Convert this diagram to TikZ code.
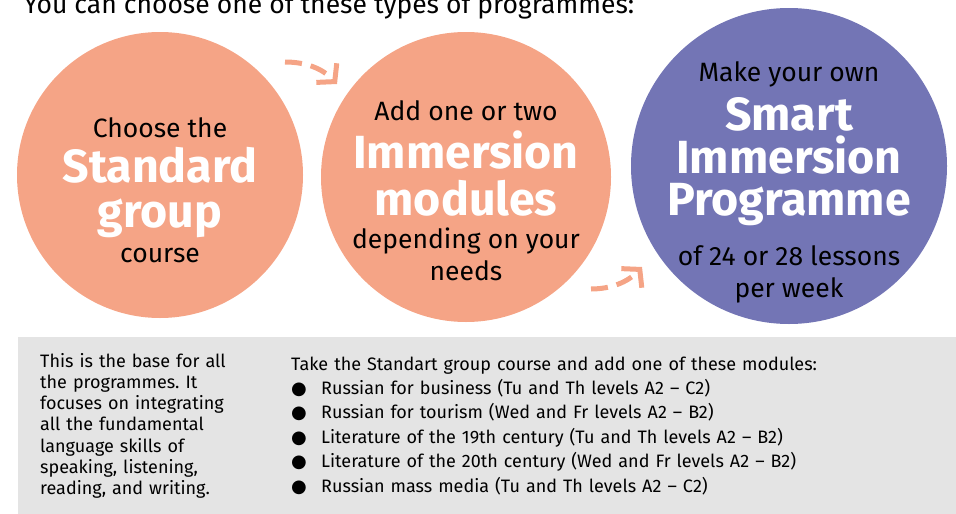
\documentclass[tikz,border=0pt]{standalone}
\usepackage{fontspec}
\setmainfont{Fira Sans}
\newfontfamily\symfont{DejaVu Sans}
\usetikzlibrary{arrows.meta}
\definecolor{salmon}{HTML}{F5A486}
\definecolor{lilac}{HTML}{7375B5}
\definecolor{panelgray}{HTML}{E4E4E4}
\frenchspacing
\newcommand\blob{\makebox[30pt][l]{\symfont\fontsize{18}{18}\selectfont ●}}

\begin{document}
\begin{tikzpicture}[x=1pt, y=-1pt,
    bubble/.style={circle, fill=#1, inner sep=0pt},   % the three round steps
    smalltxt/.style={anchor=base, font=\fontsize{26.5}{30}\selectfont},
    bigtxt/.style={anchor=base, text=white, font=\fontsize{46.5}{50}\selectfont\bfseries},
    panel/.style={fill=panelgray, anchor=north west, inner sep=0pt, align=left,
        font=\fontsize{18}{21.2}\selectfont},
    hop/.style={salmon, line width=5pt, dash pattern=on 17pt off 9pt,
        -{Straight Barb[length=12pt, width=28pt]}}
]
\useasboundingbox (0,0) rectangle (956,514);

% title, cut at the top
\node[anchor=base west, font=\fontsize{26.5}{30}\selectfont] (title) at (20,13)
    {You can choose one of these types of programmes:};

% circles
\node[bubble=salmon, minimum size=286pt] (std) at (160,175) {};
\node[bubble=salmon, minimum size=290pt] (imm) at (466,177) {};
\node[bubble=lilac,  minimum size=316pt] (smart) at (789,166) {};

\node[smalltxt] (std1) at (160,137) {Choose the};
\node[bigtxt]   (std2) at (160,182) {Standard};
\node[bigtxt]   (std3) at (160,227) {group};
\node[smalltxt] (std4) at (160,262) {course};

\node[smalltxt] (imm1) at (466,120) {Add one or two};
\node[bigtxt]   (imm2) at (466,168) {Immersion};
\node[bigtxt]   (imm3) at (466,215) {modules};
\node[smalltxt] (imm4) at (466,248) {depending on your};
\node[smalltxt] (imm5) at (466,280) {needs};

\node[smalltxt] (sm1) at (789,81)  {Make your own};
\node[bigtxt]   (sm2) at (789,130) {Smart};
\node[bigtxt]   (sm3) at (789,173) {Immersion};
\node[bigtxt]   (sm4) at (789,215) {Programme};
\node[smalltxt] (sm5) at (789,265) {of 24 or 28 lessons};
\node[smalltxt] (sm6) at (789,297) {per week};

% dashed hops between the circles
\coordinate (a1s) at (285,62);
\coordinate (a1e) at (337,84);
\coordinate (a2s) at (591,289);
\coordinate (a2e) at (642,267);
\draw[hop] (a1s) .. controls (305,62) and (322,68) .. (a1e);
\draw[hop] (a2s) .. controls (611,289) and (628,282) .. (a2e);

% grey panels
\node[panel, minimum width=239pt, minimum height=177pt, text width=217pt,
    inner xsep=22pt] (base) at (18,337)
    {This is the base for all\\the programmes. It\\focuses on integrating\\all the fundamental\\
     language skills of\\speaking, listening,\\reading, and writing.};
\node[panel, minimum width=679pt, minimum height=177pt, text width=665pt,
    inner xsep=14pt, font=\fontsize{18}{24.4}\selectfont] (mods) at (277,337)
    {Take the Standart group course and add one of these modules:\\
     \blob Russian for business (Tu and Th levels A2 – C2)\\
     \blob Russian for tourism (Wed and Fr levels A2 – B2)\\
     \blob Literature of the 19th century (Tu and Th levels A2 – B2)\\
     \blob Literature of the 20th century (Wed and Fr levels A2 – B2)\\
     \blob Russian mass media (Tu and Th levels A2 – C2)};
\end{tikzpicture}
\end{document}
